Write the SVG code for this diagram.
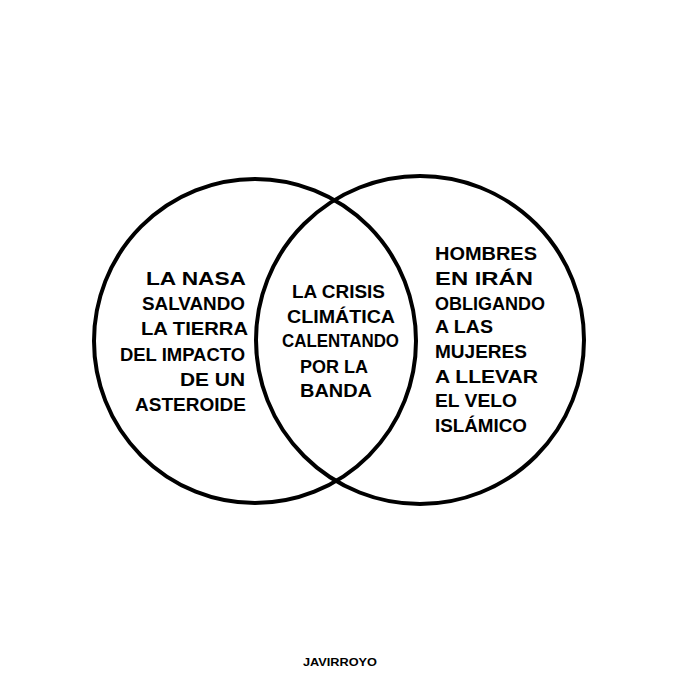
<svg xmlns="http://www.w3.org/2000/svg" width="680" height="680" viewBox="0 0 680 680">
<style>
.circ{fill:none;stroke:#000;stroke-width:4}
.t{font-family:"Liberation Sans","DejaVu Sans",sans-serif;font-weight:bold;font-size:19px;fill:#000}
.sig{font-family:"Liberation Sans","DejaVu Sans",sans-serif;font-weight:bold;font-size:10px;fill:#000}
</style>
<rect width="680" height="680" fill="#fff"/>
<g id="set-left"><ellipse class="circ" cx="255" cy="341" rx="161" ry="162"/></g>
<g id="set-right"><ellipse class="circ" cx="420" cy="340" rx="164" ry="164"/></g>
<g id="label-left">
<text class="t" x="146" y="285" textLength="100" lengthAdjust="spacingAndGlyphs">LA NASA</text>
<text class="t" x="142" y="310" textLength="103" lengthAdjust="spacingAndGlyphs">SALVANDO</text>
<text class="t" x="141" y="335" textLength="107" lengthAdjust="spacingAndGlyphs">LA TIERRA</text>
<text class="t" x="120" y="361" textLength="125" lengthAdjust="spacingAndGlyphs">DEL IMPACTO</text>
<text class="t" x="180" y="386" textLength="65" lengthAdjust="spacingAndGlyphs">DE UN</text>
<text class="t" x="135" y="411" textLength="111" lengthAdjust="spacingAndGlyphs">ASTEROIDE</text>
</g>
<g id="label-middle">
<text class="t" x="292" y="298" textLength="93" lengthAdjust="spacingAndGlyphs">LA CRISIS</text>
<text class="t" x="287" y="323" textLength="108" lengthAdjust="spacingAndGlyphs">CLIMÁTICA</text>
<text class="t" x="282" y="347" textLength="117" lengthAdjust="spacingAndGlyphs">CALENTANDO</text>
<text class="t" x="300" y="373" textLength="68" lengthAdjust="spacingAndGlyphs">POR LA</text>
<text class="t" x="300" y="397" textLength="72" lengthAdjust="spacingAndGlyphs">BANDA</text>
</g>
<g id="label-right">
<text class="t" x="435" y="260" textLength="102" lengthAdjust="spacingAndGlyphs">HOMBRES</text>
<text class="t" x="435" y="285" textLength="98" lengthAdjust="spacingAndGlyphs">EN IRÁN</text>
<text class="t" x="435" y="310" textLength="110" lengthAdjust="spacingAndGlyphs">OBLIGANDO</text>
<text class="t" x="435" y="333" textLength="58" lengthAdjust="spacingAndGlyphs">A LAS</text>
<text class="t" x="435" y="358" textLength="92" lengthAdjust="spacingAndGlyphs">MUJERES</text>
<text class="t" x="435" y="383" textLength="103" lengthAdjust="spacingAndGlyphs">A LLEVAR</text>
<text class="t" x="435" y="407" textLength="82" lengthAdjust="spacingAndGlyphs">EL VELO</text>
<text class="t" x="435" y="432" textLength="92" lengthAdjust="spacingAndGlyphs">ISLÁMICO</text>
</g>
<g id="signature">
<text class="sig" x="303" y="666" textLength="74" lengthAdjust="spacingAndGlyphs">JAVIRROYO</text>
</g>
</svg>
